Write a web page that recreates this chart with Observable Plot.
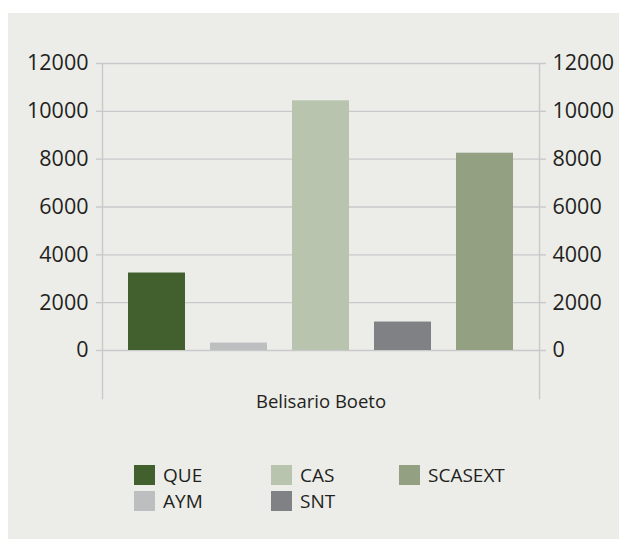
<!DOCTYPE html>
<html>
<head>
<meta charset="utf-8">
<script src="https://cdn.jsdelivr.net/npm/d3@7"></script>
<script src="https://cdn.jsdelivr.net/npm/@observablehq/plot@0.6"></script>
<style>
  html, body { margin: 0; padding: 0; background: #ffffff; width: 619px; height: 539px; overflow: hidden; }
  #panel { position: absolute; left: 8px; top: 13px; width: 611px; height: 526px; background: #ecede9; font-family: "Open Sans", sans-serif; color: #231f20; }
  #chart { position: absolute; left: 0; top: 0; }
  #legend { position: absolute; left: 126px; top: 452px; display: grid; grid-auto-flow: column; grid-template-rows: 26px 26px; grid-template-columns: 137px 128px auto; }
  .item { display: flex; align-items: center; height: 20px; font-size: 19px; line-height: 20px; }
  .sw { width: 21px; height: 20px; margin-right: 8px; flex: none; }
</style>
</head>
<body>
<div id="panel">
  <div id="chart"></div>
  <div id="legend"></div>
</div>
<script>
const region = "Belisario Boeto";
const categories = ["QUE", "AYM", "CAS", "SNT", "SCASEXT"];
const values = [3240, 310, 10440, 1190, 8250];
const colors = ["#42602d", "#bdbec0", "#b8c4ad", "#808184", "#93a082"];
const yTicks = [0, 2000, 4000, 6000, 8000, 10000, 12000];

const data = categories.map((c, i) => ({region, series: c, value: values[i]}));
const grid = "#c8c9c9";
const ink = "#231f20";

const chart = Plot.plot({
  width: 611,
  height: 420,
  marginLeft: 94,
  marginRight: 80,
  marginTop: 50,
  marginBottom: 83,
  style: {background: "transparent", fontFamily: "Open Sans, sans-serif", color: ink, overflow: "visible"},
  fx: {domain: [region], padding: 0, label: null, axis: null},
  x: {domain: categories, paddingInner: 0.305, paddingOuter: 0.317, axis: null},
  y: {domain: [0, 12000], axis: null},
  color: {domain: categories, range: colors},
  marks: [
    Plot.ruleY(yTicks, {stroke: grid, strokeWidth: 1.4}),
    Plot.frame({anchor: "left", stroke: grid, strokeWidth: 1.4, insetBottom: -48}),
    Plot.frame({anchor: "right", stroke: grid, strokeWidth: 1.4, insetBottom: -48}),
    Plot.barY(data, {fx: "region", x: "series", y: "value", fill: "series"}),
    Plot.axisY({anchor: "left", ticks: yTicks, tickFormat: d => String(d), tickSize: 6, tickPadding: 8, stroke: grid, strokeWidth: 1.4, fill: ink, fontSize: 21.5, label: null}),
    Plot.axisY({anchor: "right", ticks: yTicks, tickFormat: d => String(d), tickSize: 6, tickPadding: 7, stroke: grid, strokeWidth: 1.4, fill: ink, fontSize: 21.5, label: null}),
    Plot.axisFx({anchor: "bottom", tickSize: 0, tickPadding: 44, fill: ink, fontSize: 18.5, label: null})
  ]
});
document.getElementById("chart").appendChild(chart);

const colorScale = chart.scale("color");
const legend = document.getElementById("legend");
categories.forEach((c) => {
  const item = document.createElement("div");
  item.className = "item";
  const sw = document.createElement("span");
  sw.className = "sw";
  sw.style.background = colorScale.apply(c);
  const label = document.createElement("span");
  label.textContent = c;
  item.appendChild(sw);
  item.appendChild(label);
  legend.appendChild(item);
});
</script>
</body>
</html>
